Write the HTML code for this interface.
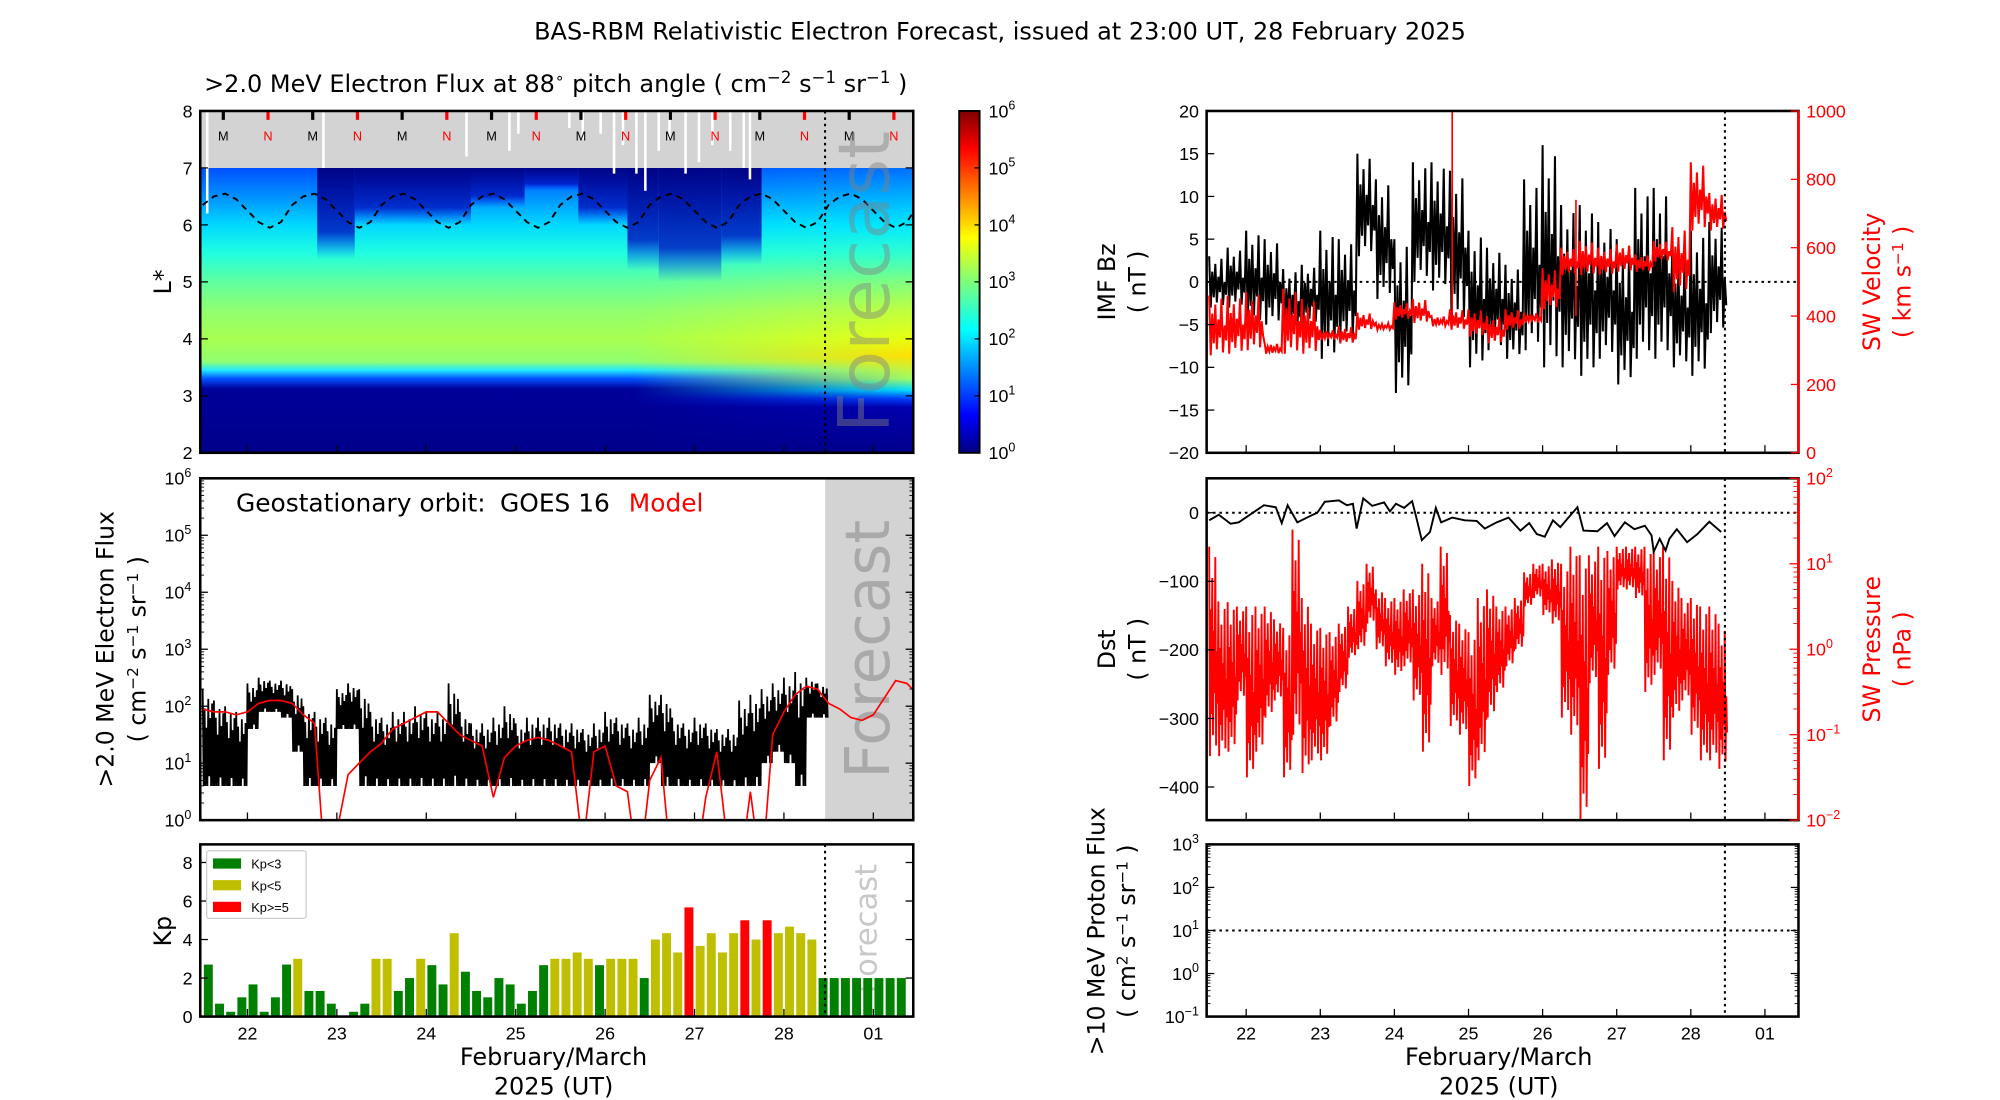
<!DOCTYPE html>
<html><head><meta charset="utf-8"><style>
html,body{margin:0;padding:0;background:#fff;}
svg{display:block;font-family:"Liberation Sans","DejaVu Sans",sans-serif;}
.dv{font-family:"DejaVu Sans","Liberation Sans",sans-serif;}
</style></head><body>
<svg id="fig" width="2000" height="1100" viewBox="0 0 1568 862.4" xmlns="http://www.w3.org/2000/svg">
<defs>
<linearGradient id="hmBase" x1="0" y1="0" x2="0" y2="1">
<stop offset="0" stop-color="#0050ff"/><stop offset="0.1" stop-color="#0090ff"/><stop offset="0.2" stop-color="#00d8ff"/>
<stop offset="0.3" stop-color="#20ffe0"/><stop offset="0.4" stop-color="#60ffa0"/><stop offset="0.5" stop-color="#90ff70"/>
<stop offset="0.6" stop-color="#a8ff50"/><stop offset="0.68" stop-color="#90ff70"/><stop offset="0.71" stop-color="#20e8ff"/>
<stop offset="0.74" stop-color="#0050ff"/><stop offset="0.775" stop-color="#00009a"/><stop offset="1" stop-color="#00008b"/>
</linearGradient>
<linearGradient id="hmRight" x1="0" y1="0" x2="0" y2="1">
<stop offset="0" stop-color="#0070ff"/><stop offset="0.1" stop-color="#00b0ff"/><stop offset="0.2" stop-color="#00e8ff"/>
<stop offset="0.3" stop-color="#30ffd0"/><stop offset="0.4" stop-color="#80ff80"/><stop offset="0.5" stop-color="#c0ff40"/>
<stop offset="0.6" stop-color="#e8ff10"/><stop offset="0.66" stop-color="#ffe000"/><stop offset="0.74" stop-color="#a0ff60"/>
<stop offset="0.78" stop-color="#00e0ff"/><stop offset="0.81" stop-color="#0040ff"/><stop offset="0.84" stop-color="#0000b0"/><stop offset="1" stop-color="#00008b"/>
</linearGradient>
<linearGradient id="fadeH" x1="0" y1="0" x2="1" y2="0">
<stop offset="0" stop-color="#fff" stop-opacity="0"/><stop offset="1" stop-color="#fff" stop-opacity="1"/>
</linearGradient>
<linearGradient id="darkV" x1="0" y1="0" x2="0" y2="1">
<stop offset="0" stop-color="#000080" stop-opacity="0.95"/><stop offset="0.7" stop-color="#0010c0" stop-opacity="0.8"/><stop offset="1" stop-color="#0030ff" stop-opacity="0"/>
</linearGradient>
<linearGradient id="jet" x1="0" y1="1" x2="0" y2="0">
<stop offset="0" stop-color="#00007f"/><stop offset="0.11" stop-color="#0000ff"/><stop offset="0.36" stop-color="#00ffff"/>
<stop offset="0.5" stop-color="#7dff7a"/><stop offset="0.63" stop-color="#ffff00"/><stop offset="0.89" stop-color="#ff0000"/><stop offset="1" stop-color="#7f0000"/>
</linearGradient>
<clipPath id="cTop"><rect x="157" y="87" width="559" height="268"/></clipPath>
<clipPath id="cMid"><rect x="157" y="375" width="559" height="268"/></clipPath>
<clipPath id="cBz"><rect x="946" y="87" width="464" height="268"/></clipPath>
<clipPath id="cDst"><rect x="946" y="375" width="464" height="268"/></clipPath>
</defs>
<text class="dv" x="784" y="31" font-size="18.8" text-anchor="middle">BAS-RBM Relativistic Electron Forecast, issued at 23:00 UT, 28 February 2025</text>
<g id="layer"></g>
</svg>
<script>
// ---------- DATA ----------
const kpValues=[2.7,0.67,0.25,1.0,1.67,0.25,1.0,2.7,3.0,1.33,1.33,0.67,0,0.25,0.67,3.0,3.0,1.33,2.0,3.0,2.67,1.67,4.33,2.33,1.33,1.0,2.0,1.67,0.67,1.33,2.67,3.0,3.0,3.33,3.0,2.67,3.0,3.0,3.0,2.0,4.0,4.33,3.33,5.67,3.67,4.33,3.33,4.33,5.0,4.0,5.0,4.33,4.67,4.33,4.0,2,2,2,2,2,2,2,2];
const kpStartDay=21.5625;
const dayTicks=[22,23,24,25,26,27,28,29];
const dayTickLabels=["22","23","24","25","26","27","28","01"];
const forecastDay=28.46;
const goesHi=[2.3,2.1,2.0,1.9,2.4,2.5,2.45,2.45,2.3,2.0,1.9,1.8,2.3,2.4,2.3,1.9,1.8,1.9,1.9,2.0,1.9,1.9,2.4,1.9,1.7,1.7,1.8,2.0,1.7,1.8,1.8,1.8,1.7,1.7,1.6,1.7,1.9,1.8,1.7,1.8,2.2,2.2,1.8,1.7,1.8,1.7,1.6,1.6,2.1,2.2,2.3,2.4,2.5,2.6,2.5,2.4];
const goesLo=[0.6,0.6,0.6,0.6,1.6,1.9,1.9,1.8,1.2,0.6,0.6,0.6,1.6,1.6,0.6,0.6,0.6,0.6,0.6,0.6,0.6,0.6,0.6,0.6,0.6,0.6,0.6,0.6,0.6,0.6,0.6,0.6,0.6,0.6,0.6,0.6,0.6,0.6,0.6,0.6,1.0,0.6,0.6,0.6,0.6,0.6,0.6,0.6,0.6,0.6,1.0,1.2,1.0,0.6,1.8,1.8];
const modelLog=[1.95,1.9,1.9,1.85,1.9,2.05,2.1,2.1,2.05,1.85,1.7,-1,-0.2,0.8,1.0,1.2,1.35,1.6,1.7,1.8,1.9,1.9,1.7,1.5,1.4,1.3,0.4,1.1,1.3,1.4,1.45,1.4,1.3,1.2,-0.5,1.2,1.3,0.6,0.5,-1,0.7,1.1,-1,-0.5,-1,0.4,1.2,-0.5,-1,0.5,-1,1.5,1.9,2.2,2.35,2.3,2.05,1.95,1.8,1.75,1.85,2.15,2.45,2.4,2.2];
const lstarBoundary=[6.35,6.5,6.55,6.45,6.25,6.05,5.95,6.05,6.35,6.5,6.55,6.45,6.25,6.05,5.95,6.05,6.35,6.5,6.55,6.45,6.25,6.05,5.95,6.05,6.35,6.5,6.55,6.45,6.25,6.05,5.95,6.05,6.35,6.5,6.55,6.45,6.25,6.05,5.95,6.05,6.35,6.5,6.55,6.45,6.25,6.05,5.95,6.05,6.35,6.5,6.55,6.45,6.25,6.05,5.95,6.05,6.35,6.5,6.55,6.45,6.25,6.05,5.95,6.05,6.35];
const darkStart=[22.78,23.2,24.5,25.1,25.7,26.25,26.6,27.3];
const darkEnd=[23.2,24.5,25.1,25.7,26.25,26.6,27.3,27.75];
const darkBottomL=[5.4,6.0,6.3,6.6,6.0,5.2,5.0,5.3];
const gapDays=[21.55,22.85,24.45,24.93,25.03,25.6,25.75,25.95,26.1,26.2,26.35,26.45,26.6,26.72,26.9,27.05,27.2,27.4,27.55,27.62];
const gapBottomL=[6.2,7.0,7.2,7.3,7.6,7.7,7.5,7.6,6.9,7.4,6.9,6.6,7.3,7.5,6.9,7.1,7.4,7.3,7.0,6.8];
const bzHi=[3,4,6,5,1.5,2,6,5,15,12,5,14,14,13,6,4,2,12,16,9,9,7,5,11,11,4,6,7];
const bzLo=[-3,-3,-5,-5,-6,-5,-9,-7,3,-2,-13,0,-1,-5,-10,-8,-9,-8,-10,-10,-11,-9,-12,-9,-9,-10,-11,-6];
const velHi=[460,460,470,320,480,450,360,370,410,380,440,450,400,420,420,400,420,410,540,600,620,600,610,580,620,660,850,760];
const velLo=[285,290,300,290,290,290,330,320,360,360,390,380,370,360,340,320,360,380,420,520,520,520,530,530,560,470,650,650];
const velSpikeDays=[24.78,26.45];
const velSpikeVals=[1000,740];
const presHi=[1.2,0.56,0.55,0.5,0.5,0.5,0.5,0.35,0.25,1.4,0.6,0.3,0.25,0.2,0.3,0.5,0.8,1.0,0.7,0.6,0.6,0.7,0.7,1.0,0.6,1.2,0.4,0.3,0.2,0.6,0.7,0.5,0.5,0.6,0.9,1.0,1.0,1.05,1.0,1.2,1.1,1.1,1.2,1.15,1.2,1.2,1.2,1.2,1.15,1.2,0.8,0.6,0.6,0.5,0.5,0.3];
const presLo=[-1.25,-1.25,-1.2,-0.6,-1.5,-1.2,-0.8,-0.6,-1.5,-1.0,-1.45,-1.3,-1.3,-0.9,-0.5,-0.1,0.0,0.3,0.0,-0.2,-0.3,-0.2,-0.6,-1.2,-0.2,-0.3,-0.9,-1.0,-1.6,-1.3,-0.8,-0.5,-0.2,0.0,0.5,0.6,0.4,0.3,-0.8,-1.0,-2.0,-0.4,-1.4,-0.3,0.7,0.7,0.6,-0.5,-0.3,-1.3,-0.8,-0.6,-1.0,-1.3,-1.3,-1.4];
const dstDays=[21.5,21.63,21.79,21.9,22.24,22.4,22.48,22.56,22.69,22.88,22.96,23.06,23.25,23.36,23.44,23.49,23.58,23.7,23.86,23.94,24.02,24.13,24.24,24.29,24.37,24.48,24.56,24.63,24.78,24.95,25.11,25.22,25.38,25.54,25.7,25.82,25.92,26.03,26.14,26.24,26.34,26.47,26.55,26.74,26.87,26.97,27.11,27.24,27.38,27.47,27.5,27.58,27.66,27.71,27.81,27.95,28.09,28.25,28.41];
const dstVals=[-11,-3,-16,-14,11,8,-15,11,-14,-4,0,16,18,11,13,-23,21,10,15,2,13,7,17,-4,-40,-28,7,-14,-7,-11,-12,-23,-14,-7,-26,-15,-31,-35,-11,-21,-8,8,-26,-27,-15,-34,-14,-24,-19,-33,-57,-38,-55,-38,-24,-43,-31,-13,-28];

// ---------- AXES ----------
const xL=d=>194+(d-22)*70.1;
const xR=d=>977+(d-22)*58.1;
const yL=L=>355-(L-2)*44.67;
const yFlux=lg=>643-lg*44.67;
const yKp=k=>797-k*15.1;
const yBz=b=>221-b*6.7;
const yV=v=>355-v*0.268;
const yDst=d=>402-d*0.5375;
const yP=lg=>643-(lg+2)*67;
const yProt=lg=>797-(lg+1)*33.75;
const NS="http://www.w3.org/2000/svg";
const root=document.getElementById('layer');
function mk(tag,attrs,parent){const e=document.createElementNS(NS,tag);for(const k in attrs)e.setAttribute(k,attrs[k]);(parent||root).appendChild(e);return e;}
function txt(x,y,s,size,attrs,parent){const e=mk('text',Object.assign({x:x,y:y,'font-size':size},attrs||{}),parent);e.textContent=s;return e;}
const zigA=[1,0,0.7,0.2,0.85,0.1,0.6,0.3,0.95,0.05,0.5,0.25];
const zigF=[1,0,0.8,0,0.6,0,0.9,0.1,0.7,0,0.85,0];
function zigPath(hi,lo,start,w,xf,yf,pat){pat=pat||zigA;let pts=[];for(let i=0;i<hi.length;i++){for(let j=0;j<pat.length;j++){const d=start+i*w+w*j/pat.length;const v=lo[i]+(hi[i]-lo[i])*pat[j];pts.push(xf(d).toFixed(1)+','+yf(v).toFixed(1));}}return 'M'+pts.join('L');}
function supText(x,y,base,exp,size,attrs,anchor){const t=txt(x,y,'',size,Object.assign({'text-anchor':anchor||'end'},attrs||{}));const a=document.createElementNS(NS,'tspan');a.textContent=base;t.appendChild(a);const b=document.createElementNS(NS,'tspan');b.setAttribute('dy','-6');b.setAttribute('font-size',size*0.7);b.textContent=exp;t.appendChild(b);return t;}

// ================= TOP-LEFT HEATMAP =================
const gTop=mk('g',{'clip-path':'url(#cTop)'});


mk('rect',{x:157,y:yL(7),width:559,height:yL(2)-yL(7),fill:'url(#hmBase)'},gTop);
const rx=xL(26.3);
mk('mask',{id:'mR'},gTop);
const mR=document.getElementById('mR');
mk('rect',{x:rx,y:87,width:716-rx,height:268,fill:'url(#fadeH)'},mR);
mk('rect',{x:rx,y:yL(7),width:716-rx,height:yL(2)-yL(7),fill:'url(#hmRight)',mask:'url(#mR)'},gTop);
for(let i=0;i<darkStart.length;i++){
  const r=mk('rect',{x:xL(darkStart[i]),y:yL(7),width:xL(darkEnd[i])-xL(darkStart[i]),height:yL(darkBottomL[i])-yL(7),fill:'url(#darkV)'},gTop);
  
  
}
mk('rect',{x:157,y:87,width:559,height:yL(7)-87,fill:'#d3d3d3'},gTop);
for(let i=0;i<gapDays.length;i++){
  const l=mk('line',{x1:xL(gapDays[i]),x2:xL(gapDays[i]),y1:88,y2:yL(gapBottomL[i]),stroke:'#fff','stroke-width':2},gTop);
  
  
}
for(let k=0;k<8;k++){
  const dm=21.73+k, dn=22.23+k;
  mk('line',{x1:xL(dm),x2:xL(dm),y1:87,y2:94,stroke:'#000','stroke-width':2.5},gTop);
  const tm=txt(xL(dm),110,'M',10,{'text-anchor':'middle'},gTop);
  
  
  mk('line',{x1:xL(dn),x2:xL(dn),y1:87,y2:94,stroke:'#f00','stroke-width':2.5},gTop);
  const tn=txt(xL(dn),110,'N',10,{'text-anchor':'middle',fill:'#f00'},gTop);
  
  
}
let bp=lstarBoundary.map((v,i)=>xL(21.5+i*0.125).toFixed(1)+','+yL(v).toFixed(1));
const bline=mk('path',{d:'M'+bp.join('L'),fill:'none',stroke:'#000','stroke-width':1.5,'stroke-dasharray':'5,4'},gTop);


mk('line',{x1:xL(forecastDay),x2:xL(forecastDay),y1:87,y2:355,stroke:'#000','stroke-width':1.6,'stroke-dasharray':'2,3'},gTop);
const ft=txt(0,0,'Forecast',56,{class:'dv',fill:'#808080','fill-opacity':0.45,'text-anchor':'middle',transform:'translate(697,221) rotate(-90)'},gTop);


mk('rect',{x:157,y:87,width:559,height:268,fill:'none',stroke:'#000','stroke-width':2});
const tt=txt(160,72,'',18.8,{class:'dv'});


tt.innerHTML='&gt;2.0 MeV Electron Flux at 88<tspan dy="-7" font-size="12">∘</tspan><tspan dy="7"> pitch angle ( cm</tspan><tspan dy="-7" font-size="13">−2</tspan><tspan dy="7"> s</tspan><tspan dy="-7" font-size="13">−1</tspan><tspan dy="7"> sr</tspan><tspan dy="-7" font-size="13">−1</tspan><tspan dy="7"> )</tspan>';
for(let L=2;L<=8;L++){
  txt(151,yL(L)+5,String(L),14,{'text-anchor':'end'});
  mk('line',{x1:157,x2:163,y1:yL(L),y2:yL(L),stroke:'#000'});
  mk('line',{x1:710,x2:716,y1:yL(L),y2:yL(L),stroke:'#000'});
}
dayTicks.forEach(d=>{mk('line',{x1:xL(d),x2:xL(d),y1:349,y2:355,stroke:'#000'});});
const yl1=txt(0,0,'L*',18.5,{class:'dv','text-anchor':'middle',transform:'translate(134,221) rotate(-90)'});


const cb=mk('rect',{x:752,y:87,width:16,height:268,fill:'url(#jet)',stroke:'#000','stroke-width':1.5});


for(let k=0;k<=6;k++){supText(775,355-k*44.67+5,'10',String(k),14,{},'start');mk('line',{x1:764,x2:768,y1:355-k*44.67,y2:355-k*44.67,stroke:'#000'});}

// ================= MIDDLE-LEFT GEO FLUX =================
const gMid=mk('g',{'clip-path':'url(#cMid)'});


mk('rect',{x:xL(forecastDay),y:375,width:716-xL(forecastDay),height:268,fill:'#d3d3d3'},gMid);
const ft2=txt(0,0,'Forecast',48,{class:'dv',fill:'#a9a9a9','text-anchor':'middle',transform:'translate(697,509) rotate(-90)'},gMid);


const goes=mk('path',{d:zigPath(goesHi,goesLo,21.5,0.125,xL,yFlux,zigF),fill:'none',stroke:'#000','stroke-width':1.4},gMid);


let mp='';modelLog.forEach((v,i)=>{mp+=(i?'L':'M')+xL(21.5+i*0.125).toFixed(1)+','+yFlux(v).toFixed(1);});
const model=mk('path',{d:mp,fill:'none',stroke:'#f00','stroke-width':1.3},gMid);


mk('rect',{x:157,y:375,width:559,height:268,fill:'none',stroke:'#000','stroke-width':2});
const lg1=txt(185,401,'Geostationary orbit:',19.5,{class:'dv'});


const lg3=txt(392,401,'GOES 16',19.5,{class:'dv'});


const lg2=txt(493,401,'Model',19.5,{class:'dv',fill:'#f00'});


for(let k=0;k<=6;k++){supText(150,yFlux(k)+5,'10',String(k),14);mk('line',{x1:157,x2:163,y1:yFlux(k),y2:yFlux(k),stroke:'#000'});mk('line',{x1:710,x2:716,y1:yFlux(k),y2:yFlux(k),stroke:'#000'});
 if(k<6)for(let m=2;m<10;m++){const yy=yFlux(k+Math.log10(m));mk('line',{x1:157,x2:160,y1:yy,y2:yy,stroke:'#000','stroke-width':0.7});mk('line',{x1:713,x2:716,y1:yy,y2:yy,stroke:'#000','stroke-width':0.7});}}
dayTicks.forEach(d=>{mk('line',{x1:xL(d),x2:xL(d),y1:637,y2:643,stroke:'#000'});});
const yl2=mk('text',{class:'dv','font-size':18.5,'text-anchor':'middle',transform:'translate(89,509) rotate(-90)'});


yl2.innerHTML='&gt;2.0 MeV Electron Flux<tspan x="0" dy="25">( cm</tspan><tspan dy="-6" font-size="12">−2</tspan><tspan dy="6"> s</tspan><tspan dy="-6" font-size="12">−1</tspan><tspan dy="6"> sr</tspan><tspan dy="-6" font-size="12">−1</tspan><tspan dy="6"> )</tspan>';

// ================= KP =================
const gKp=mk('g',{});


const ft3=txt(0,0,'Forecast',24,{class:'dv',fill:'#c8c8c8','text-anchor':'middle',transform:'translate(687,728) rotate(-90)'},gKp);


kpValues.forEach((v,i)=>{
  const d=kpStartDay+i*0.125;
  const col=v<3?'#008000':(v<5?'#bfbf00':'#ff0000');
  const b=mk('rect',{x:xL(d-0.05),y:yKp(v),width:xL(0.1)-xL(0),height:yKp(0)-yKp(v),fill:col},gKp);
  
  
});
mk('line',{x1:xL(forecastDay),x2:xL(forecastDay),y1:662,y2:797,stroke:'#000','stroke-width':1.6,'stroke-dasharray':'2,3'});
mk('rect',{x:157,y:662,width:559,height:135,fill:'none',stroke:'#000','stroke-width':2});
[0,2,4,6,8].forEach(k=>{txt(151,yKp(k)+5,String(k),14,{'text-anchor':'end'});mk('line',{x1:157,x2:163,y1:yKp(k),y2:yKp(k),stroke:'#000'});mk('line',{x1:710,x2:716,y1:yKp(k),y2:yKp(k),stroke:'#000'});});
dayTicks.forEach((d,i)=>{mk('line',{x1:xL(d),x2:xL(d),y1:791,y2:797,stroke:'#000'});txt(xL(d),815,dayTickLabels[i],14,{'text-anchor':'middle'});});
const legK=mk('g',{});


mk('rect',{x:162,y:667,width:78,height:53,fill:'#fff',stroke:'#ccc',rx:2},legK);
[['Kp<3','#008000'],['Kp<5','#bfbf00'],['Kp>=5','#ff0000']].forEach((e,i)=>{mk('rect',{x:167,y:673+i*17,width:22,height:8,fill:e[1]},legK);const t=txt(197,681+i*17,e[0],10,{},legK);});
const kpl=txt(0,0,'Kp',18.5,{class:'dv','text-anchor':'middle',transform:'translate(134,730) rotate(-90)'});


const xlL=txt(434,835,'February/March',18.8,{class:'dv','text-anchor':'middle'});


txt(434,858,'2025 (UT)',18.8,{class:'dv','text-anchor':'middle'});

// ================= BZ / VELOCITY =================
const gBz=mk('g',{'clip-path':'url(#cBz)'});


mk('line',{x1:946,x2:1410,y1:yBz(0),y2:yBz(0),stroke:'#000','stroke-width':1.5,'stroke-dasharray':'2,3'},gBz);
const bz=mk('path',{d:zigPath(bzHi,bzLo,21.5,0.25,xR,yBz),fill:'none',stroke:'#000','stroke-width':1.6},gBz);


const vel=mk('path',{d:zigPath(velHi,velLo,21.5,0.25,xR,yV),fill:'none',stroke:'#f00','stroke-width':1.6},gBz);


velSpikeDays.forEach((d,i)=>{const s=mk('line',{x1:xR(d),x2:xR(d),y1:yV(400),y2:yV(velSpikeVals[i]),stroke:'#f00','stroke-width':1.3},gBz);});
mk('line',{x1:xR(forecastDay),x2:xR(forecastDay),y1:87,y2:355,stroke:'#000','stroke-width':1.6,'stroke-dasharray':'2,3'},gBz);
mk('rect',{x:946,y:87,width:464,height:268,fill:'none',stroke:'#000','stroke-width':2});
mk('line',{x1:1410,x2:1410,y1:87,y2:355,stroke:'#f00','stroke-width':2});
for(let b=-20;b<=20;b+=5){txt(940,yBz(b)+5,String(b).replace('-','−'),14,{'text-anchor':'end'});mk('line',{x1:946,x2:952,y1:yBz(b),y2:yBz(b),stroke:'#000'});}
for(let v=0;v<=1000;v+=200){txt(1416,yV(v)+5,String(v),14,{fill:'#f00'});mk('line',{x1:1404,x2:1410,y1:yV(v),y2:yV(v),stroke:'#f00'});}
dayTicks.forEach(d=>{mk('line',{x1:xR(d),x2:xR(d),y1:349,y2:355,stroke:'#000'});});
const bzl=mk('text',{class:'dv','font-size':18.5,'text-anchor':'middle',transform:'translate(874,221) rotate(-90)'});


bzl.innerHTML='IMF Bz<tspan x="0" dy="24">( nT )</tspan>';
const vl=mk('text',{class:'dv','font-size':18.5,'text-anchor':'middle',fill:'#f00',transform:'translate(1474,221) rotate(-90)'});


vl.innerHTML='SW Velocity<tspan x="0" dy="24">( km s</tspan><tspan dy="-6" font-size="12">−1</tspan><tspan dy="6"> )</tspan>';

// ================= DST / PRESSURE =================
const gDst=mk('g',{'clip-path':'url(#cDst)'});


mk('line',{x1:946,x2:1410,y1:yDst(0),y2:yDst(0),stroke:'#000','stroke-width':1.5,'stroke-dasharray':'2,3'},gDst);
const pres=mk('path',{d:zigPath(presHi,presLo,21.5,0.125,xR,yP),fill:'none',stroke:'#f00','stroke-width':1.5},gDst);


let dp='';dstDays.forEach((d,i)=>{dp+=(i?'L':'M')+xR(d).toFixed(1)+','+yDst(dstVals[i]).toFixed(1);});
const dst=mk('path',{d:dp,fill:'none',stroke:'#000','stroke-width':1.5},gDst);


mk('line',{x1:xR(forecastDay),x2:xR(forecastDay),y1:375,y2:643,stroke:'#000','stroke-width':1.6,'stroke-dasharray':'2,3'},gDst);
mk('rect',{x:946,y:375,width:464,height:268,fill:'none',stroke:'#000','stroke-width':2});
mk('line',{x1:1410,x2:1410,y1:375,y2:643,stroke:'#f00','stroke-width':2});
for(let d=0;d>=-400;d-=100){txt(940,yDst(d)+5,String(d).replace('-','−'),14,{'text-anchor':'end'});mk('line',{x1:946,x2:952,y1:yDst(d),y2:yDst(d),stroke:'#000'});}
for(let k=-2;k<=2;k++){supText(1416,yP(k)+5,'10',String(k).replace('-','−'),14,{fill:'#f00'},'start');mk('line',{x1:1403,x2:1410,y1:yP(k),y2:yP(k),stroke:'#f00'});
 if(k<2)for(let m=2;m<10;m++){const yy=yP(k+Math.log10(m));mk('line',{x1:1406,x2:1410,y1:yy,y2:yy,stroke:'#f00','stroke-width':0.7});}}
dayTicks.forEach(d=>{mk('line',{x1:xR(d),x2:xR(d),y1:637,y2:643,stroke:'#000'});});
const dsl=mk('text',{class:'dv','font-size':18.5,'text-anchor':'middle',transform:'translate(874,509) rotate(-90)'});


dsl.innerHTML='Dst<tspan x="0" dy="24">( nT )</tspan>';
const psl=mk('text',{class:'dv','font-size':18.5,'text-anchor':'middle',fill:'#f00',transform:'translate(1474,509) rotate(-90)'});


psl.innerHTML='SW Pressure<tspan x="0" dy="24">( nPa )</tspan>';

// ================= PROTON =================
const gPr=mk('g',{});


mk('line',{x1:946,x2:1410,y1:yProt(1),y2:yProt(1),stroke:'#000','stroke-width':1.5,'stroke-dasharray':'2,3'},gPr);
mk('line',{x1:xR(forecastDay),x2:xR(forecastDay),y1:662,y2:797,stroke:'#000','stroke-width':1.6,'stroke-dasharray':'2,3'},gPr);
mk('rect',{x:946,y:662,width:464,height:135,fill:'none',stroke:'#000','stroke-width':2},gPr);
for(let k=-1;k<=3;k++){supText(940,yProt(k)+5,'10',String(k).replace('-','−'),14);mk('line',{x1:946,x2:952,y1:yProt(k),y2:yProt(k),stroke:'#000'});mk('line',{x1:1404,x2:1410,y1:yProt(k),y2:yProt(k),stroke:'#000'});
 if(k<3)for(let m=2;m<10;m++){const yy=yProt(k+Math.log10(m));mk('line',{x1:946,x2:949,y1:yy,y2:yy,stroke:'#000','stroke-width':0.7});mk('line',{x1:1407,x2:1410,y1:yy,y2:yy,stroke:'#000','stroke-width':0.7});}}
dayTicks.forEach((d,i)=>{mk('line',{x1:xR(d),x2:xR(d),y1:791,y2:797,stroke:'#000'});txt(xR(d),815,dayTickLabels[i],14,{'text-anchor':'middle'});});
const prl=mk('text',{class:'dv','font-size':18.5,'text-anchor':'middle',transform:'translate(866,730) rotate(-90)'});


prl.innerHTML='&gt;10 MeV Proton Flux<tspan x="0" dy="24">( cm</tspan><tspan dy="-6" font-size="12">2</tspan><tspan dy="6"> s</tspan><tspan dy="-6" font-size="12">−1</tspan><tspan dy="6"> sr</tspan><tspan dy="-6" font-size="12">−1</tspan><tspan dy="6"> )</tspan>';
const xlR=txt(1175,835,'February/March',18.8,{class:'dv','text-anchor':'middle'});


txt(1175,858,'2025 (UT)',18.8,{class:'dv','text-anchor':'middle'});
</script>
</body></html>
